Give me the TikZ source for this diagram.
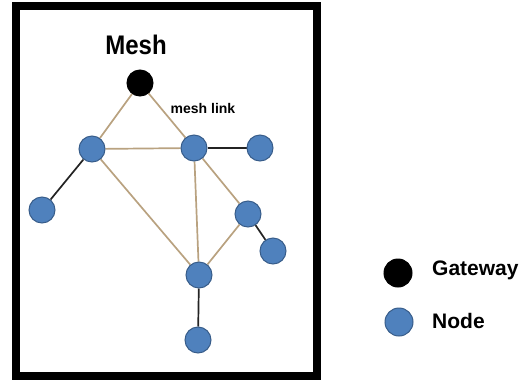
\documentclass[tikz,border=0pt]{standalone}
\usepackage{fontspec}
\setmainfont{Liberation Sans}
\usetikzlibrary{backgrounds}

\definecolor{nodeblue}{RGB}{79,129,189}
\definecolor{nodeedge}{RGB}{56,93,138}
\definecolor{linktan}{RGB}{185,162,128}
\definecolor{linkdark}{RGB}{35,35,35}

\tikzset{
  gw/.style={circle, fill=black, draw=black, line width=1pt, minimum size=26pt, inner sep=0pt},
  meshnode/.style={circle, fill=nodeblue, draw=nodeedge, line width=1pt, minimum size=26pt, inner sep=0pt},
  meshlink/.style={linktan, line width=1.7pt},
  leaflink/.style={linkdark, line width=1.7pt},
  lbl/.style={font=\bfseries\fontsize{21}{21}\selectfont, anchor=west, inner sep=0pt}
}

\begin{document}
\begin{tikzpicture}[x=1pt, y=-1pt]
\useasboundingbox (0,0) rectangle (531,381);
% outer frame
\draw[line width=8pt] (16,6) rectangle (316.5,376);

\node[font=\bfseries\fontsize{24}{24}\selectfont, yscale=1.12] (title) at (136,45) {Mesh};
\node[font=\bfseries\fontsize{14}{14}\selectfont] (linklbl) at (203,108) {mesh link};

% gateway and nodes
\node[gw] (gate) at (140,83) {};
\foreach \n/\x/\y in {a/92/149, b/194/148, c/260/148, d/42/210, e/248/214, f/273/251, g/199/275, h/198/340} {
  \node[meshnode] (\n) at (\x,\y) {};
}

\begin{scope}[on background layer]
\foreach \u/\v in {gate/a, gate/b, a/b, a/g, b/g, b/e, e/g} {
  \draw[meshlink] (\u) -- (\v);
}
\foreach \u/\v in {b/c, a/d, e/f, g/h} {
  \draw[leaflink] (\u) -- (\v);
}
\end{scope}

% legend
\node[gw, minimum size=28pt] (keygate) at (398,273) {};
\node[meshnode, minimum size=28pt] (keynode) at (399,322) {};
\node[lbl] (keygatetxt) at (432,270) {Gateway};
\node[lbl] (keynodetxt) at (432,321) {Node};
\end{tikzpicture}
\end{document}
